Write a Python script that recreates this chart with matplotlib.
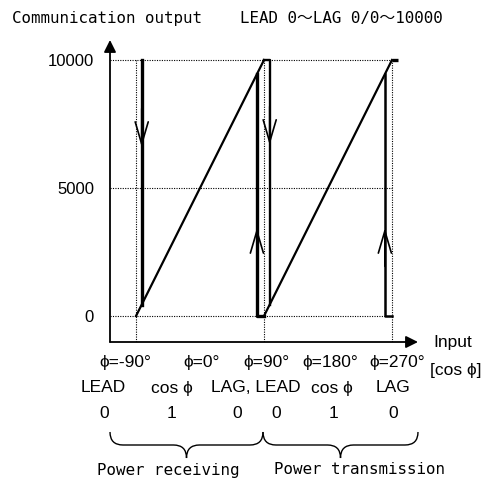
"""Communication output vs. input (power factor) characteristic."""

import matplotlib

matplotlib.use("Agg")
import matplotlib.pyplot as plt
from matplotlib.patches import PathPatch
from matplotlib.path import Path

W, H = 495, 482

# ramps (input angle in degrees, output count)
RECV_X = [-90, 90]
RECV_Y = [0, 10000]
SEND_X = [90, 270]
SEND_Y = [0, 10000]

# switching edges
EDGE_A_X = [-82, -82]
EDGE_A_Y = [10000, 444]
EDGE_B_X = [90, 80, 80]
EDGE_B_Y = [0, 0, 9444]
EDGE_C_X = [90, 98, 98]
EDGE_C_Y = [10000, 10000, 444]
EDGE_D_X = [270, 260, 260]
EDGE_D_Y = [0, 0, 9444]
EDGE_E_X = [270, 278]
EDGE_E_Y = [10000, 10000]

# direction arrows: (x, tip value, +1 up / -1 down)
DIR_ARROWS = [(-82, 6600, -1), (98, 6680, -1), (80, 3440, 1), (260, 3440, 1)]

Y_TICKS = [0, 5000, 10000]
Y_TICK_LABELS = ["0", "5000", "10000"]
GRID_X = [-90, 90, 270]

PHI_LABELS = ["\u03d5=-90°", "\u03d5=0°", "\u03d5=90°", "\u03d5=180°", "\u03d5=270°"]
PHI_PX = [125, 202, 266, 330, 397]
PF_LABELS = ["LEAD", "cos \u03d5", "LAG, LEAD", "cos \u03d5", "LAG"]
PF_PX = [103, 172, 256, 332, 393]
PF_VALUES = ["0", "1", "0", "0", "1", "0"]
PF_VALUE_PX = [104, 172, 237, 276, 333, 393]
SIDES = ["Power receiving", "Power transmission"]
SIDE_PX = [168, 359]
BRACE_PX = [(110, 263), (263, 418)]

MONO = ["DejaVu Sans Mono", "Noto Sans CJK JP"]
SANS = ["Liberation Sans", "Noto Sans CJK JP"]


def fig_xy(x, y):
    return x / W, 1 - y / H


def put(fig, x, y, s, family=SANS, size=12.5, ha="center"):
    fx, fy = fig_xy(x, y)
    fig.text(fx, fy, s, ha=ha, va="center", family=family, fontsize=size)


def brace(fig, x0, x1, y_top, depth):
    r = depth / 2
    mid = (x0 + x1) / 2
    pts = [
        (x0, y_top), (x0, y_top + r), (x0 + r, y_top + r),
        (mid - r, y_top + r), (mid, y_top + r), (mid, y_top + depth),
        (mid, y_top + r), (mid + r, y_top + r),
        (x1 - r, y_top + r), (x1, y_top + r), (x1, y_top),
    ]
    codes = [Path.MOVETO, Path.CURVE3, Path.CURVE3, Path.LINETO,
             Path.CURVE3, Path.CURVE3, Path.CURVE3, Path.CURVE3,
             Path.LINETO, Path.CURVE3, Path.CURVE3]
    path = Path([fig_xy(*p) for p in pts], codes)
    fig.add_artist(PathPatch(path, fill=False, lw=1.0, color="black",
                             transform=fig.transFigure))


fig = plt.figure(figsize=(W / 100, H / 100), dpi=100)
ax = fig.add_axes([110 / W, 140 / H, 308 / W, 302 / H])
ax.set_xlim(-126.6, 306.6)
ax.set_ylim(-1016, 10781)
for sp in ax.spines.values():
    sp.set_visible(False)
ax.set_xticks([])
ax.set_yticks(Y_TICKS, Y_TICK_LABELS, family=SANS, fontsize=12)
ax.tick_params(axis="y", length=0, pad=11.5)

# axes with arrow heads
axis_arrow = dict(arrowstyle="-|>", lw=1.3, color="black",
                  mutation_scale=18, shrinkA=0, shrinkB=0)
ax.annotate("", xy=(0, 1), xytext=(0, 0), xycoords="axes fraction",
            arrowprops=axis_arrow)
ax.annotate("", xy=(1, 0), xytext=(0, 0), xycoords="axes fraction",
            arrowprops=axis_arrow)

# dotted guide lines
dots = dict(color="black", lw=0.8, linestyle=(0, (1, 1.2)))
for v in Y_TICKS:
    ax.plot([ax.get_xlim()[0], GRID_X[-1]], [v, v], **dots)
for g in GRID_X:
    ax.plot([g, g], [ax.get_ylim()[0], Y_TICKS[-1]], **dots)

ax.plot(RECV_X, RECV_Y, color="black", lw=1.6)
ax.plot(SEND_X, SEND_Y, color="black", lw=1.6)
ax.plot(EDGE_A_X, EDGE_A_Y, color="black", lw=2.4)
ax.plot(EDGE_B_X, EDGE_B_Y, color="black", lw=2.4)
ax.plot(EDGE_C_X, EDGE_C_Y, color="black", lw=1.7)
ax.plot(EDGE_D_X, EDGE_D_Y, color="black", lw=1.8)
ax.plot(EDGE_E_X, EDGE_E_Y, color="black", lw=2.4, solid_capstyle="butt")

for x, tip, d in DIR_ARROWS:
    ax.annotate("", xy=(x, tip), xytext=(x, tip - d * 1500),
                arrowprops=dict(arrowstyle="->,head_length=1.6,head_width=0.47",
                                lw=1.2, color="black", shrinkA=0, shrinkB=0))

put(fig, 12, 19, "Communication output    LEAD 0\u301cLAG 0/0\u301c10000",
    family=MONO, size=11.4, ha="left")
put(fig, 433, 342, "Input", ha="left")
put(fig, 430, 370, "[cos \u03d5]", ha="left")

for s, x in zip(PHI_LABELS, PHI_PX):
    put(fig, x, 362, s)
for s, x in zip(PF_LABELS, PF_PX):
    put(fig, x, 388, s)
for s, x in zip(PF_VALUES, PF_VALUE_PX):
    put(fig, x, 413, s)
for x0, x1 in BRACE_PX:
    brace(fig, x0, x1, 432, 26)
for s, x in zip(SIDES, SIDE_PX):
    put(fig, x, 470, s, family=MONO, size=11.4)

fig.savefig("out.png", dpi=100)
